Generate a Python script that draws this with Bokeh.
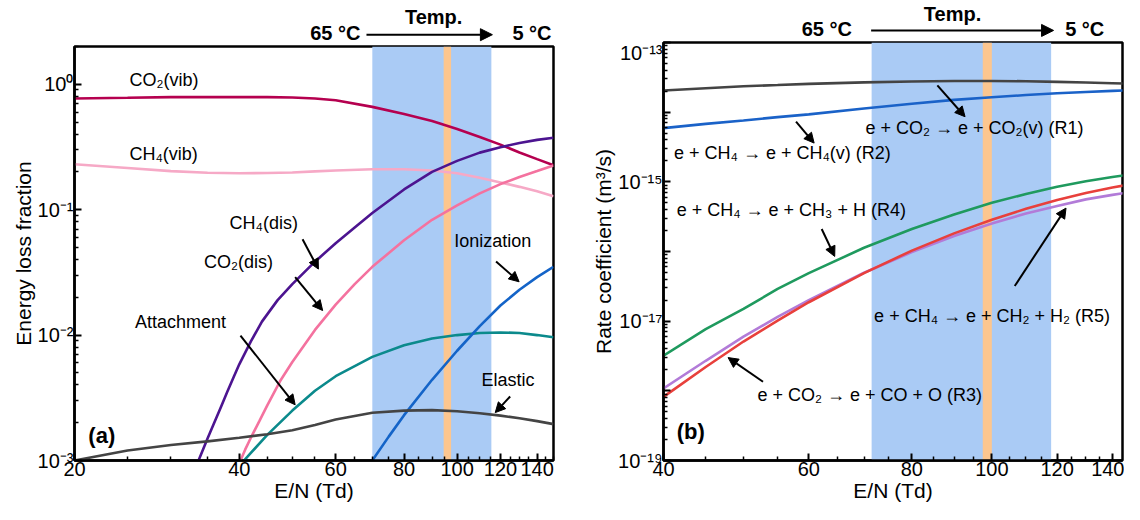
from bokeh.plotting import figure
from bokeh.layouts import row, column
from bokeh.models import (FixedTicker, CustomJSTickFormatter, BoxAnnotation, Label,
                          Arrow, NormalHead, Range1d)
from bokeh.embed import file_html
from bokeh.resources import INLINE

FONT = "Liberation Sans"

# ---------------- panel (a): energy loss fraction ----------------
en_a = [20, 25, 30, 35, 40, 45, 50, 55, 60, 70, 80, 90, 100, 110, 120, 130, 140, 150]
co2_vib = [0.77, 0.78, 0.79, 0.79, 0.79, 0.79, 0.785, 0.77, 0.745, 0.66, 0.58, 0.51,
           0.44, 0.38, 0.33, 0.286, 0.253, 0.226]
ch4_vib = [0.23, 0.215, 0.203, 0.197, 0.195, 0.196, 0.198, 0.202, 0.205, 0.21, 0.21,
           0.205, 0.195, 0.18, 0.165, 0.152, 0.14, 0.128]
elastic = [1.0e-3, 1.2e-3, 1.33e-3, 1.42e-3, 1.52e-3, 1.62e-3, 1.74e-3, 1.92e-3, 2.12e-3,
           2.4e-3, 2.5e-3, 2.52e-3, 2.47e-3, 2.38e-3, 2.28e-3, 2.17e-3, 2.06e-3, 1.95e-3]

en_ch4_dis = [33.7, 35, 36, 37, 38, 39, 40, 42, 44, 47, 50, 55, 60, 65, 70, 80, 90, 100,
              110, 120, 130, 140, 150]
ch4_dis = [1.0e-3, 1.5e-3, 2.0e-3, 2.65e-3, 3.5e-3, 4.55e-3, 5.85e-3, 8.9e-3, 0.0128,
           0.019, 0.0255, 0.0385, 0.054, 0.072, 0.094, 0.145, 0.20, 0.245, 0.285, 0.315,
           0.34, 0.36, 0.375]

en_co2_dis = [40.2, 41, 42, 43.5, 45, 47.5, 50, 55, 60, 65, 70, 80, 90, 100, 110, 120,
              130, 140, 150]
co2_dis = [1.0e-3, 1.22e-3, 1.52e-3, 2.05e-3, 2.75e-3, 4.3e-3, 6.1e-3, 0.011, 0.0175,
           0.0255, 0.035, 0.057, 0.083, 0.108, 0.135, 0.16, 0.182, 0.203, 0.225]

en_attach = [40.8, 42, 45, 50, 55, 60, 70, 80, 90, 100, 110, 120, 130, 140, 150]
attachment = [1.0e-3, 1.15e-3, 1.6e-3, 2.5e-3, 3.6e-3, 4.7e-3, 6.7e-3, 8.3e-3, 9.4e-3,
              1.0e-2, 1.04e-2, 1.05e-2, 1.04e-2, 1.0e-2, 9.6e-3]

en_ion = [70, 75, 80, 90, 100, 110, 120, 130, 140, 150]
ionization = [1.0e-3, 1.55e-3, 2.3e-3, 4.4e-3, 7.5e-3, 1.18e-2, 1.72e-2, 2.3e-2, 2.9e-2, 3.5e-2]

band_a = [70, 115.5]
line_a = [94.5, 97.5]

# ---------------- panel (b): rate coefficients ----------------
en_b = [40, 45, 50, 55, 60, 70, 80, 90, 100, 110, 120, 130, 140, 148]
r1 = [2.05e-14, 2.2e-14, 2.35e-14, 2.45e-14, 2.55e-14, 2.68e-14, 2.76e-14, 2.8e-14,
      2.8e-14, 2.78e-14, 2.72e-14, 2.66e-14, 2.6e-14, 2.55e-14]
r2 = [5.9e-15, 6.8e-15, 7.6e-15, 8.5e-15, 9.3e-15, 1.13e-14, 1.32e-14, 1.5e-14,
      1.64e-14, 1.76e-14, 1.87e-14, 1.95e-14, 2.02e-14, 2.07e-14]
r4 = [3.2e-18, 7.7e-18, 1.5e-17, 2.9e-17, 4.9e-17, 1.13e-16, 2.1e-16, 3.4e-16,
      5.0e-16, 6.7e-16, 8.5e-16, 1.02e-15, 1.17e-15, 1.29e-15]
r3 = [8.2e-19, 2.2e-18, 5.1e-18, 1.02e-17, 1.87e-17, 4.9e-17, 1.03e-16, 1.82e-16,
      2.86e-16, 4.1e-16, 5.5e-16, 6.9e-16, 8.3e-16, 9.3e-16]
r5 = [1.08e-18, 2.7e-18, 6.0e-18, 1.15e-17, 2.0e-17, 4.95e-17, 9.8e-17, 1.67e-16,
      2.53e-16, 3.5e-16, 4.5e-16, 5.6e-16, 6.5e-16, 7.2e-16]

band_b = [71.5, 118]
line_b = [97.5, 100]

xticks_a = [20, 40, 60, 80, 100, 120, 140]
xticks_b = [40, 60, 80, 100, 120, 140]

SUP = """
const m = {'-':'\u207b','0':'\u2070','1':'\u00b9','2':'\u00b2','3':'\u00b3','4':'\u2074',
           '5':'\u2075','6':'\u2076','7':'\u2077','8':'\u2078','9':'\u2079'};
const e = Math.round(Math.log10(tick));
%s
return '10' + String(e).split('').map(c => m[c]).join('');
"""


def decade_minors(lo, hi):
    out = []
    for e in range(lo, hi):
        for k in range(2, 10):
            out.append(k * 10.0 ** e)
    return out


def make_fig(xr, yr, width, height, mbl, mbr, mbt, xticks, yticks, yminor, odd_only, ylabel):
    p = figure(width=width, height=height, x_axis_type="log", y_axis_type="log",
               x_range=Range1d(*xr), y_range=Range1d(*yr),
               output_backend="svg", toolbar_location=None,
               min_border_left=mbl, min_border_right=mbr,
               min_border_top=mbt, min_border_bottom=30)
    p.grid.visible = False
    p.background_fill_color = "white"
    p.border_fill_color = "white"
    p.outline_line_color = "black"
    p.outline_line_width = 2.5
    p.outline_line_alpha = 1.0
    xminor = [v for v in range(xticks[0], 151, 5) if v not in xticks]
    p.xaxis.ticker = FixedTicker(ticks=xticks, minor_ticks=xminor)
    p.xaxis.formatter = CustomJSTickFormatter(code="return tick.toFixed(0);")
    p.yaxis.ticker = FixedTicker(ticks=yticks, minor_ticks=yminor)
    p.yaxis.formatter = CustomJSTickFormatter(
        code=SUP % ("if (Math.abs(e) % 2 == 0) { return ''; }" if odd_only else ""))
    p.xaxis.axis_label = "E/N (Td)"
    p.yaxis.axis_label = ylabel
    for ax in (p.xaxis[0], p.yaxis[0]):
        ax.axis_line_width = 2.5
        ax.axis_line_color = "black"
        ax.major_tick_in = 7
        ax.major_tick_out = 0
        ax.minor_tick_in = 4
        ax.minor_tick_out = 0
        ax.major_tick_line_width = 2
        ax.minor_tick_line_width = 1.5
        ax.major_tick_line_color = "black"
        ax.minor_tick_line_color = "black"
        ax.major_label_text_font = FONT
        ax.major_label_text_font_size = "20px"
        ax.major_label_text_color = "black"
        ax.major_label_standoff = 1
        ax.axis_label_text_font = FONT
        ax.axis_label_text_font_size = "21px"
        ax.axis_label_text_font_style = "normal"
        ax.axis_label_text_color = "black"
        ax.axis_label_standoff = 0
    return p


def make_header(x_range, width, height, mbl, mbr):
    h = figure(width=width, height=height, x_axis_type="log", x_range=x_range,
               y_range=Range1d(0, 1), output_backend="svg", toolbar_location=None,
               x_axis_location=None, y_axis_location=None,
               min_border_left=mbl, min_border_right=mbr, min_border_top=0,
               min_border_bottom=0)
    h.grid.visible = False
    h.outline_line_color = None
    h.background_fill_color = "white"
    h.border_fill_color = "white"
    return h


def label(p, x, y, text, size="18px", bold=False, align="left", baseline="middle"):
    p.add_layout(Label(x=x, y=y, text=text, text_font=FONT, text_font_size=size,
                       text_font_style="bold" if bold else "normal", text_color="black",
                       text_align=align, text_baseline=baseline))


def arrow(p, x0, y0, x1, y1, size=10, width=2):
    p.add_layout(Arrow(x_start=x0, y_start=y0, x_end=x1, y_end=y1,
                       line_width=width, line_color="black",
                       end=NormalHead(size=size, fill_color="black", line_color="black",
                                      line_width=1)))


LW = 2.6

# ----- figure (a)
pa = make_fig((20, 150), (1e-3, 2.0), 559, 459, 74, 6, 1, xticks_a,
              [1e-3, 1e-2, 1e-1, 1.0], decade_minors(-3, 0) + [2.0], False,
              "Energy loss fraction")
pa.add_layout(BoxAnnotation(left=band_a[0], right=band_a[1], fill_color="#aacbf5",
                            fill_alpha=1.0, line_alpha=0, level="underlay"))
pa.add_layout(BoxAnnotation(left=line_a[0], right=line_a[1], fill_color="#fcc68f",
                            fill_alpha=1.0, line_alpha=0, level="underlay"))
pa.line(en_a, co2_vib, line_color="#b5004f", line_width=LW)
pa.line(en_a, ch4_vib, line_color="#f6a9c6", line_width=LW)
pa.line(en_ch4_dis, ch4_dis, line_color="#4c1490", line_width=LW)
pa.line(en_co2_dis, co2_dis, line_color="#f4729f", line_width=LW)
pa.line(en_attach, attachment, line_color="#0b8a8c", line_width=LW)
pa.line(en_ion, ionization, line_color="#1464c8", line_width=LW)
pa.line(en_a, elastic, line_color="#444444", line_width=LW)

label(pa, 25.2, 1.08, "CO\u2082(vib)")
label(pa, 25.2, 0.28, "CH\u2084(vib)")
label(pa, 38.4, 0.079, "CH\u2084(dis)")
label(pa, 34.5, 0.0386, "CO\u2082(dis)")
label(pa, 25.8, 0.0126, "Attachment")
label(pa, 98.8, 0.056, "Ionization")
label(pa, 110.8, 4.4e-3, "Elastic")
label(pa, 21.2, 1.59e-3, "(a)", size="22px", bold=True)
arrow(pa, 52.2, 0.058, 55.8, 0.0336)
arrow(pa, 50.6, 0.029, 56.8, 0.0157)
arrow(pa, 40.2, 0.0099, 50.6, 2.78e-3)
arrow(pa, 117.8, 0.0386, 129.8, 0.0266)
arrow(pa, 125, 3.24e-3, 117.4, 2.41e-3)

ha = make_header(pa.x_range, 559, 45, 74, 6)
label(ha, 59.9, 0.03, "65 \u00b0C", size="20px", bold=True, align="center", baseline="bottom")
label(ha, 90.6, 0.64, "Temp.", size="20px", bold=True, align="center")
label(ha, 137, 0.03, "5 \u00b0C", size="20px", bold=True, align="center", baseline="bottom")
arrow(ha, 68.3, 0.24, 116, 0.24, size=12, width=2)

# ----- figure (b)
pb = make_fig((40, 144), (1e-19, 1e-13), 565, 463, 104, 2, 1, xticks_b,
              [10.0 ** e for e in range(-19, -12)], decade_minors(-19, -13), True,
              "Rate coefficient (m\u00b3/s)")
pb.add_layout(BoxAnnotation(left=band_b[0], right=band_b[1], fill_color="#aacbf5",
                            fill_alpha=1.0, line_alpha=0, level="underlay"))
pb.add_layout(BoxAnnotation(left=line_b[0], right=line_b[1], fill_color="#fcc68f",
                            fill_alpha=1.0, line_alpha=0, level="underlay"))
pb.line(en_b, r1, line_color="#444444", line_width=LW)
pb.line(en_b, r2, line_color="#1a62c8", line_width=LW)
pb.line(en_b, r4, line_color="#1f9a5e", line_width=LW)
pb.line(en_b, r5, line_color="#b27bd8", line_width=LW)
pb.line(en_b, r3, line_color="#e8403c", line_width=LW)

label(pb, 70.3, 5.9e-15, "e + CO\u2082 \u2192 e + CO\u2082(v) (R1)")
label(pb, 41.2, 2.56e-15, "e + CH\u2084 \u2192 e + CH\u2084(v) (R2)")
label(pb, 41.5, 4.0e-16, "e + CH\u2084 \u2192 e + CH\u2083 + H (R4)")
label(pb, 72, 1.2e-17, "e + CH\u2084 \u2192 e + CH\u2082 + H\u2082 (R5)")
label(pb, 52, 8.7e-19, "e + CO\u2082 \u2192 e + CO + O (R3)")
label(pb, 41.5, 2.6e-19, "(b)", size="22px", bold=True)
arrow(pb, 85.9, 2.42e-14, 92.8, 8.6e-15)
arrow(pb, 57.9, 7.3e-15, 60.9, 3.6e-15)
arrow(pb, 62.2, 2.1e-16, 64.5, 8.5e-17)
arrow(pb, 106.6, 3.2e-17, 123, 4.2e-16)
arrow(pb, 52.8, 1.35e-18, 47.9, 3.0e-18)

hb = make_header(pb.x_range, 565, 41, 104, 2)
label(hb, 63.1, 0.03, "65 \u00b0C", size="20px", bold=True, align="center", baseline="bottom")
label(hb, 89.6, 0.68, "Temp.", size="20px", bold=True, align="center")
label(hb, 129.6, 0.03, "5 \u00b0C", size="20px", bold=True, align="center", baseline="bottom")
arrow(hb, 71.4, 0.27, 118.8, 0.27, size=12, width=2)

layout = row(column(ha, pa), column(hb, pb))
open("out.html", "w").write(file_html(layout, INLINE, "Energy loss and rate coefficients"))
